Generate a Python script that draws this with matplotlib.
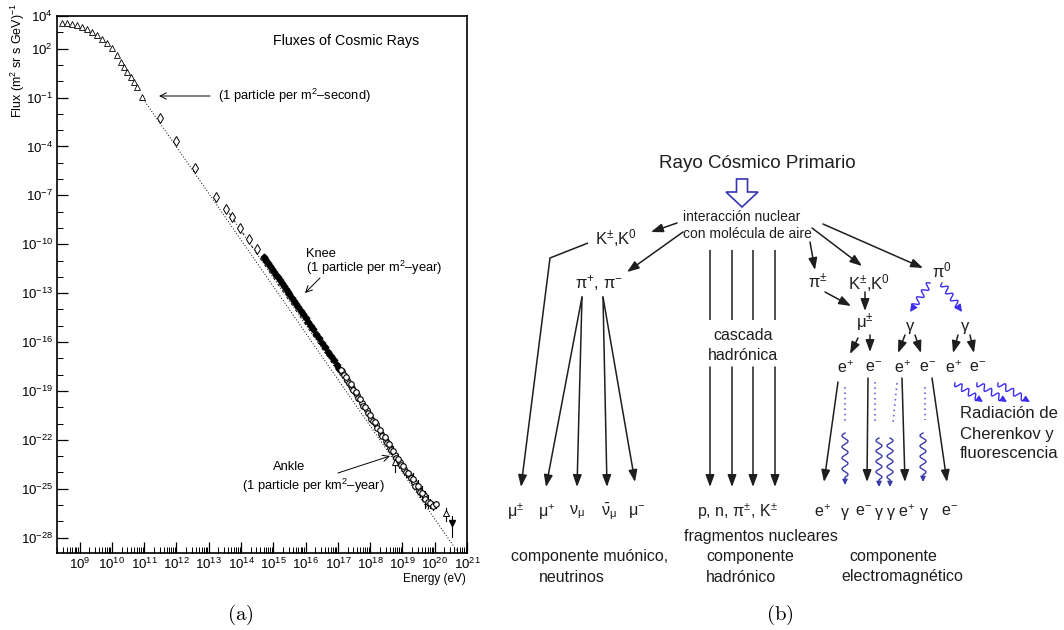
import numpy as np
import matplotlib
matplotlib.use("Agg")
import matplotlib.pyplot as plt
from matplotlib.patches import Polygon
from matplotlib.ticker import FixedLocator, LogLocator, FuncFormatter, NullFormatter

plt.rcParams["font.family"] = ["Liberation Sans", "DejaVu Sans"]
plt.rcParams["mathtext.fontset"] = "custom"
plt.rcParams["mathtext.rm"] = "Liberation Sans"
plt.rcParams["mathtext.it"] = "Liberation Sans:italic"
plt.rcParams["mathtext.bf"] = "Liberation Sans:bold"
plt.rcParams["mathtext.sf"] = "Liberation Sans"

# ---- (a) cosmic ray flux, values as log10(E / eV) and log10(flux) ----
tri_logE = [8.45, 8.60, 8.75, 8.91, 9.06, 9.22, 9.37, 9.53, 9.68, 9.84, 9.99,
            10.15, 10.27, 10.37, 10.48, 10.58, 10.68, 10.79, 10.92]
tri_logF = [3.59, 3.55, 3.51, 3.43, 3.35, 3.18, 3.04, 2.83, 2.57, 2.32, 2.02,
            1.61, 1.20, 0.89, 0.58, 0.28, -0.03, -0.38, -0.95]

dia_logE = [11.49, 11.98, 12.57, 13.22, 13.53, 13.72, 13.97, 14.24, 14.49]
dia_logF = [-2.28, -3.65, -5.34, -7.10, -7.84, -8.33, -9.00, -9.68, -10.30]

knee_logE = [14.70, 14.74, 14.78, 14.83, 14.90, 14.96, 15.02, 15.08, 15.14, 15.20,
             15.26, 15.32, 15.38, 15.44, 15.50, 15.57, 15.64, 15.71, 15.78, 15.85,
             15.92, 16.00, 16.08, 16.16, 16.24, 16.33, 16.42, 16.51, 16.60, 16.69,
             16.78, 16.87, 16.96, 17.05]
knee_logF = [-10.80, -10.90, -11.02, -11.16, -11.35, -11.52, -11.70, -11.86, -12.03, -12.21,
             -12.38, -12.55, -12.72, -12.90, -13.07, -13.27, -13.47, -13.67, -13.87, -14.07,
             -14.28, -14.51, -14.75, -14.99, -15.23, -15.50, -15.77, -16.04, -16.31, -16.58,
             -16.85, -17.12, -17.39, -17.66]

ank_logE = [17.10, 17.18, 17.25, 17.33, 17.40, 17.48, 17.55, 17.63, 17.70, 17.78,
            17.85, 17.93, 18.00, 18.08, 18.15, 18.22, 18.30, 18.37, 18.45, 18.52,
            18.58, 18.65, 18.72, 18.80, 18.87, 18.95, 19.02, 19.10, 19.18, 19.25,
            19.32, 19.40, 19.48, 19.55, 19.62, 19.70, 19.78, 19.85, 19.95, 20.05]
ank_logF = [-17.70, -18.05, -18.15, -18.52, -18.60, -18.95, -19.05, -19.45, -19.52, -19.90,
            -20.00, -20.38, -20.45, -20.85, -20.92, -21.28, -21.38, -21.75, -21.85, -22.22,
            -22.25, -22.62, -22.70, -23.10, -23.15, -23.52, -23.60, -23.95, -24.02, -24.35,
            -24.40, -24.80, -24.85, -25.20, -25.25, -25.65, -25.80, -25.90, -26.05, -25.95]
ank_err = [0, 0, 0, 0, 0, 0, 0, 0, 0, 0,
           0, 0, 0, 0, 0, 0, 0, 0, 0, 0.15,
           0, 0.25, 0.35, 0.2, 0.3, 0.15, 0.2, 0.3, 0.15, 0.3,
           0.35, 0.2, 0.4, 0.3, 0.45, 0.5, 0.4, 0.3, 0.25, 0.2]
# second, overlapping experiment in the same range (open circles, slightly offset)
ank2_logE = [17.14, 17.29, 17.44, 17.59, 17.74, 17.89, 18.04, 18.19, 18.34, 18.49,
             18.62, 18.76, 18.91, 19.06, 19.21, 19.36, 19.52, 19.66, 19.82]
ank2_logF = [-17.80, -18.30, -18.82, -19.22, -19.75, -20.15, -20.70, -21.05, -21.62, -22.05,
             -22.50, -22.95, -23.35, -23.80, -24.15, -24.60, -25.05, -25.40, -25.85]

end_logE = [18.76, 20.36]       # open triangles
end_logF = [-23.36, -26.50]
end_err = [0.6, 0.5]
lim_logE = [20.52]              # filled triangle (down)
lim_logF = [-27.13]
lim_err = [0.8]

lineA_logE = [10.92, 20.80]
lineA_logF = [-0.95, -29.13]
lineB_logE = [13.50, 19.60]
lineB_logF = [-7.72, -25.29]

ytick_exp = [4, 2, -1, -4, -7, -10, -13, -16, -19, -22, -25, -28]
xtick_exp = list(range(9, 22))

# ---- (b) shower diagram labels ----
title_b = "Rayo Cósmico Primario"
interaction = ["interacción nuclear", "con molécula de aire"]
muon_labels = ["μ$^{\\pm}$", "μ$^{+}$", "ν$_{\\mathrm{μ}}$", "$\\bar{\\mathrm{ν}}_{\\mathrm{μ}}$", "μ$^{-}$"]
em_top = ["e$^{+}$", "e$^{-}$", "e$^{+}$", "e$^{-}$", "e$^{+}$", "e$^{-}$"]
em_bottom = ["e$^{+}$", "γ", "e$^{-}$", "γ", "γ", "e$^{+}$", "γ", "e$^{-}$"]
hadron_label = "p, n, π$^{\\pm}$, K$^{\\pm}$"
cherenkov = ["Radiación de", "Cherenkov y", "fluorescencia"]

W, H = 1064, 630
fig = plt.figure(figsize=(W / 100, H / 100), dpi=100)

ax = fig.add_axes([57 / W, 77 / H, 410 / W, 537 / H])
ax.set_xscale("log")
ax.set_yscale("log")
p = lambda a: 10.0 ** np.asarray(a, float)

ax.plot(p(lineA_logE), p(lineA_logF), color="k", lw=0.7, ls=(0, (1, 2)))
ax.plot(p(lineB_logE), p(lineB_logF), color="k", lw=0.7, ls=(0, (3, 2, 1, 2)))

for e, f, err in zip(ank_logE, ank_logF, ank_err):
    if err > 0:
        ax.plot([p(e), p(e)], [p(f - err), p(f + err)], color="k", lw=0.8)
for e, f, err in zip(end_logE + lim_logE, end_logF + lim_logF, end_err + lim_err):
    ax.plot([p(e), p(e)], [p(f - err), p(f + err * 0.6)], color="k", lw=0.8)

ax.plot(p(tri_logE), p(tri_logF), ls="none", marker="^", ms=5, mfc="white", mec="k", mew=0.6)
ax.plot(p(dia_logE), p(dia_logF), ls="none", marker="d", ms=5.5, mfc="white", mec="k", mew=0.7)
ax.plot(p(knee_logE), p(knee_logF), ls="none", marker="D", ms=3.4, mfc="k", mec="k")
ax.plot(p(ank2_logE), p(ank2_logF), ls="none", marker="o", ms=4, mfc="white", mec="k", mew=0.8)
ax.plot(p(ank_logE), p(ank_logF), ls="none", marker="o", ms=4, mfc="white", mec="k", mew=0.8)
ax.plot(p(end_logE), p(end_logF), ls="none", marker="^", ms=5, mfc="white", mec="k", mew=0.7)
ax.plot(p(lim_logE), p(lim_logF), ls="none", marker="v", ms=5, mfc="k", mec="k")

ax.set_xlim(p(8.3), p(21))
ax.set_ylim(p(-28.94), p(4))
ax.yaxis.set_major_locator(FixedLocator(p(ytick_exp)))
ax.yaxis.set_minor_locator(FixedLocator(p(range(-28, 5))))
ax.xaxis.set_major_locator(FixedLocator(p(xtick_exp)))
ax.xaxis.set_minor_locator(LogLocator(base=10, subs=np.arange(2, 10), numticks=100))
fmt = FuncFormatter(lambda v, pos: "$10^{%d}$" % int(round(np.log10(v))))
ax.xaxis.set_major_formatter(fmt)
ax.yaxis.set_major_formatter(fmt)
ax.xaxis.set_minor_formatter(NullFormatter())
ax.yaxis.set_minor_formatter(NullFormatter())
ax.tick_params(which="both", direction="in", top=False, right=False, labelsize=9.5, color="k")
ax.tick_params(which="major", length=8, width=0.9, pad=3)
ax.tick_params(which="minor", length=4, width=0.7)
for s in ax.spines.values():
    s.set_linewidth(1.2)

# overlay in pixel coordinates
ov = fig.add_axes([0, 0, 1, 1])
ov.set_xlim(0, W)
ov.set_ylim(H, 0)
ov.axis("off")
ov.patch.set_visible(False)

tc = "#1e1e1e"
ov.text(18, 3, "Flux (m$^2$ sr s GeV)$^{-1}$", rotation=90, ha="center", va="top", fontsize=9)
ov.text(273, 41, "Fluxes of Cosmic Rays", ha="left", va="center", fontsize=10.3)
ov.text(218, 96, "(1 particle per m$^2$–second)", ha="left", va="center", fontsize=9.3)
ov.text(306, 254, "Knee", ha="left", va="center", fontsize=9.3)
ov.text(306, 268, "(1 particle per m$^2$–year)", ha="left", va="center", fontsize=9.3)
ov.text(273, 467, "Ankle", ha="left", va="center", fontsize=9.3)
ov.text(242, 486, "(1 particle per km$^2$–year)", ha="left", va="center", fontsize=9.3)
ov.text(466, 579, "Energy (eV)", ha="right", va="center", fontsize=8.5)
thin = dict(arrowstyle="->,head_length=0.5,head_width=0.25", color="k", lw=0.7,
            shrinkA=0, shrinkB=0, mutation_scale=9)
ov.annotate("", xy=(159, 96), xytext=(210, 96), arrowprops=thin)
ov.annotate("", xy=(305, 293), xytext=(320, 278), arrowprops=thin)
ov.annotate("", xy=(390, 456), xytext=(338, 473), arrowprops=thin)

ov.text(240, 615, r"$\mathrm{(a)}$", math_fontfamily="cm", ha="center", va="center", fontsize=15)
ov.text(780, 615, r"$\mathrm{(b)}$", math_fontfamily="cm", ha="center", va="center", fontsize=15)

# ---- diagram (b) ----
def arrow(x0, y0, x1, y1, color=tc, lw=1.1):
    ov.annotate("", xy=(x1, y1), xytext=(x0, y0),
                arrowprops=dict(arrowstyle="-|>,head_length=0.6,head_width=0.22",
                                color=color, lw=lw, shrinkA=0, shrinkB=0, mutation_scale=12))


def line(xs, ys, color=tc, lw=1.1, ls="-"):
    ov.plot(xs, ys, color=color, lw=lw, ls=ls, solid_capstyle="butt")


def wave(x0, y0, x1, y1, color, n=4, amp=3.0, lw=1.0, phase=0.0, head=True, hs=7):
    a = np.array([x0, y0], float)
    b = np.array([x1, y1], float)
    d = b - a
    L = np.hypot(*d)
    u = d / L
    nv = np.array([-u[1], u[0]])
    t = np.linspace(0, 0.85, 300)
    s = amp * np.sin(2 * np.pi * n * t / 0.85 + phase)
    pts = a + t[:, None] * d + s[:, None] * nv
    pts = np.vstack([pts, a + 0.93 * d])
    ov.plot(pts[:, 0], pts[:, 1], color=color, lw=lw)
    if head:
        ov.annotate("", xy=(x1, y1), xytext=tuple(a + 0.9 * d),
                    arrowprops=dict(arrowstyle="-|>,head_length=0.6,head_width=0.3",
                                    color=color, lw=lw, shrinkA=0, shrinkB=0, mutation_scale=hs))


fs = 11.5
ov.text(757, 163, title_b, ha="center", va="center", fontsize=13.5, color=tc)
ov.add_patch(Polygon([(736.5, 179), (747.5, 179), (747.5, 192), (758, 192), (742, 207),
                      (726, 192), (736.5, 192)], closed=True, fc="white", ec="#3434b4", lw=1.2))
ov.text(683, 217, interaction[0], ha="left", va="center", fontsize=10, color=tc)
ov.text(683, 234, interaction[1], ha="left", va="center", fontsize=10, color=tc)

ov.text(595, 238, "K$^{\\pm}$,K$^{0}$", ha="left", va="center", fontsize=12, color=tc)
ov.text(575, 283, "π$^{+}$, π$^{-}$", ha="left", va="center", fontsize=12, color=tc)
ov.text(818, 281, "π$^{\\pm}$", ha="center", va="center", fontsize=12, color=tc)
ov.text(848, 283, "K$^{\\pm}$,K$^{0}$", ha="left", va="center", fontsize=12, color=tc)
ov.text(932, 270, "π$^{0}$", ha="left", va="center", fontsize=12, color=tc)
ov.text(865, 323, "μ$^{\\pm}$", ha="center", va="center", fontsize=12, color=tc)
for x in (910, 965):
    ov.text(x, 326, "γ", ha="center", va="center", fontsize=12, color=tc)
for x, s in zip((845, 874, 902, 928, 953, 978), em_top):
    ov.text(x, 368, s, ha="center", va="center", fontsize=fs, color=tc)

# arrows out of the interaction
arrow(677, 223, 651, 232)
arrow(683, 232, 627, 272)
arrow(810, 242, 815, 270)
arrow(812, 228, 862, 266)
arrow(823, 224, 923, 268)
arrow(825, 292, 851, 306)
arrow(865, 292, 865, 311)
arrow(858, 338, 850, 354)
arrow(870, 335, 870, 352)
arrow(905, 335, 898, 353)
arrow(915, 335, 921, 353)
arrow(958, 335, 953, 353)
arrow(970, 335, 974, 353)

# muonic branch
line([588, 550], [243, 258])
arrow(550, 258, 521, 487)
arrow(582, 297, 546, 487)
arrow(582, 297, 577, 487)
arrow(603, 297, 607, 487)
arrow(603, 297, 635, 482)
for x, s in zip((516, 547, 577, 609, 637), muon_labels):
    ov.text(x, 512, s, ha="center", va="center", fontsize=fs, color=tc)
ov.text(590, 557, "componente muónico,", ha="center", va="center", fontsize=fs, color=tc)
ov.text(572, 577, "neutrinos", ha="center", va="center", fontsize=fs, color=tc)

# hadronic branch
for x in (710, 732, 753, 775):
    line([x, x], [250, 320])
    arrow(x, 367, x, 487)
ov.text(743, 335, "cascada", ha="center", va="center", fontsize=fs, color=tc)
ov.text(743, 355, "hadrónica", ha="center", va="center", fontsize=fs, color=tc)
ov.text(737, 512, hadron_label, ha="center", va="center", fontsize=fs, color=tc)
ov.text(761, 537, "fragmentos nucleares", ha="center", va="center", fontsize=fs, color=tc)
ov.text(706, 557, "componente", ha="left", va="center", fontsize=fs, color=tc)
ov.text(706, 577, "hadrónico", ha="left", va="center", fontsize=fs, color=tc)

# electromagnetic branch
bright = "#3b2cf0"
navy = "#3a3ca8"
wave(930, 283, 910, 312, bright, n=3.5, amp=3.0)
wave(942, 283, 962, 312, bright, n=3.5, amp=3.0)
arrow(838, 382, 824, 482)
arrow(868, 378, 867, 482)
arrow(902, 378, 905, 482)
arrow(932, 378, 947, 482)
dot = "#6a6ad8"
line([845, 845], [387, 423], color=dot, lw=1.2, ls=(0, (1, 2.2)))
line([875, 875], [382, 423], color=dot, lw=1.2, ls=(0, (1, 2.2)))
line([897, 893], [383, 423], color=dot, lw=1.2, ls=(0, (1, 2.2)))
line([925, 925], [387, 420], color=dot, lw=1.2, ls=(0, (1, 2.2)))
wave(845, 433, 845, 485, navy, n=4, amp=3.0, hs=5)
wave(879, 438, 879, 487, navy, n=4, amp=3.0, hs=5)
wave(890, 438, 890, 487, navy, n=4, amp=3.0, phase=np.pi, hs=5)
wave(923, 433, 923, 482, navy, n=4, amp=3.0, hs=5)
for x0, x1 in ((955, 983), (977, 1007), (998, 1030)):
    wave(x0, 383, x1, 402, bright, n=3.5, amp=3.0, hs=6)
for x, s in zip((822, 845, 864, 879, 891, 906, 924, 950), em_bottom):
    ov.text(x, 512, s, ha="center", va="center", fontsize=fs, color=tc)
ov.text(893, 556, "componente", ha="center", va="center", fontsize=fs, color=tc)
ov.text(902, 576, "electromagnético", ha="center", va="center", fontsize=fs, color=tc)
for i, s in enumerate(cherenkov):
    ov.text(960, 414 + 20 * i, s, ha="left", va="center", fontsize=12, color=tc)

fig.savefig("out.png", dpi=100)
